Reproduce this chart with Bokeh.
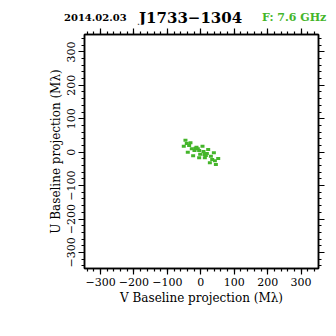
from bokeh.plotting import figure
from bokeh.models import Range1d, LinearAxis, SingleIntervalTicker, Div
from bokeh.layouts import column
from bokeh.embed import file_html
from bokeh.resources import INLINE

# uv points (Mλ): V on x axis, U on y axis
v_vals = [-46, -31, -51, -35, -39, -13, 5, -19, -5, -23, -5, 11, 22, 39, 12, 34, 52, 27, 45,
          -27, -9, 15, 30, -42, 42, -16, 18, 8, -2]
u_vals = [36, 28, 18, 20, 0, 15, 18, 5, 5, -11, -17, -7, 8, -2, -17, -22, -19, -32, -37,
          10, 10, -10, -12, 26, -26, 12, -4, 2, -6]

tick_vals = [-300, -200, -100, 0, 100, 200, 300]
tick_text = ["−300", "−200", "−100", "0", "100", "200", "300"]

date_text = "2014.02.03"
source_name = "J1733−1304"
freq_text = "F: 7.6 GHz"

GREEN = "#44b52a"
FONT = "DejaVu Serif"
W = 328
HEAD_H = 24

# ---- header strip with the three title texts ----
span = ("<span style=\"position:absolute;left:{l}px;top:{t}px;font-size:{s}px;"
        "line-height:{lh}px;color:{c};white-space:nowrap;\">{txt}</span>")
html = ("<div style=\"position:relative;width:{w}px;height:{h}px;font-family:'DejaVu Serif';"
        "font-weight:bold;\">".format(w=W, h=HEAD_H)
        + span.format(l=64, t=10, s=10, lh=16, c="black", txt=date_text)
        + span.format(l=139, t=7, s=15, lh=22, c="black", txt=source_name)
        + span.format(l=262, t=10, s=11, lh=16, c=GREEN, txt=freq_text)
        + "</div>")
head = Div(text=html, width=W, height=HEAD_H, margin=0)

# ---- main uv plot ----
p = figure(width=W, height=320 - HEAD_H, output_backend="svg", toolbar_location=None,
           x_range=Range1d(-348, 352), y_range=Range1d(-348, 352),
           x_axis_location=None, y_axis_location=None,
           min_border_left=84, min_border_right=10, min_border_top=10, min_border_bottom=52)
p.grid.visible = False
p.outline_line_color = "black"
p.outline_line_width = 1.5

overrides = dict(zip(tick_vals, tick_text))

def make_axis(label, show_labels, vertical=False):
    ax = LinearAxis(ticker=SingleIntervalTicker(interval=100, num_minor_ticks=5))
    ax.axis_line_width = 1.5
    ax.major_tick_in = 0
    ax.major_tick_out = 6
    ax.minor_tick_in = 0
    ax.minor_tick_out = 3
    ax.major_tick_line_width = 1.2
    ax.minor_tick_line_width = 1.2
    ax.major_label_overrides = overrides
    ax.major_label_text_font = FONT
    ax.major_label_text_font_size = "11px"
    ax.major_label_text_color = "black"
    ax.major_label_standoff = 3
    if vertical:
        ax.major_label_orientation = "vertical"
    if not show_labels:
        ax.major_label_text_alpha = 0
        ax.major_label_text_font_size = "0px"
        ax.major_label_standoff = 0
    if label:
        ax.axis_label = label
        ax.axis_label_text_font = FONT
        ax.axis_label_text_font_size = "12px"
        ax.axis_label_text_font_style = "normal"
        ax.axis_label_text_color = "black"
        ax.axis_label_standoff = 2
    return ax

p.add_layout(make_axis("V Baseline projection (Mλ)", True), "below")
p.add_layout(make_axis("U Baseline projection (Mλ)", True, vertical=True), "left")
p.add_layout(make_axis(None, False), "above")
p.add_layout(make_axis(None, False, vertical=True), "right")

p.rect(x=v_vals, y=u_vals, width=4, height=3, width_units="screen", height_units="screen",
       color=GREEN, line_color=None)

layout = column(head, p, spacing=0)
open("out.html", "w").write(file_html(layout, INLINE))
